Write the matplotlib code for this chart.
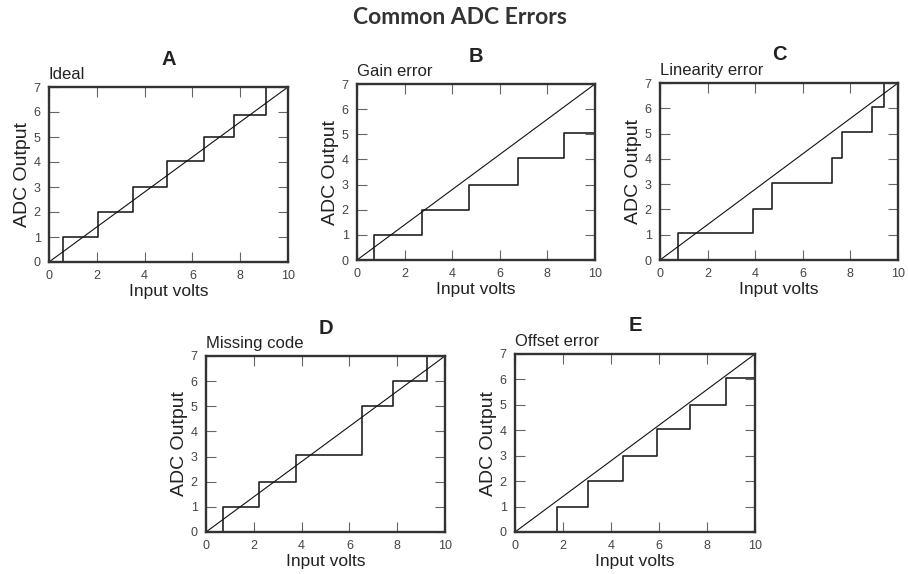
import numpy as np
import matplotlib
matplotlib.use("Agg")
import matplotlib.pyplot as plt

plt.rcParams['font.family'] = ['Liberation Sans', 'DejaVu Sans']

# step transitions (input volts) and the output code reached after each
ideal_x = [0.6, 2.05, 3.5, 4.92, 6.5, 7.75, 9.1]
ideal_y = [1, 2, 3, 4.05, 5, 5.9, 7]
gain_x = [0.7, 2.73, 4.69, 6.76, 8.71]
gain_y = [1, 2, 3, 4.05, 5.05]
lin_x = [0.74, 3.89, 4.69, 7.23, 7.64, 8.9, 9.4]
lin_y = [1.05, 2, 3.05, 4.05, 5.05, 6.05, 7]
miss_x = [0.73, 2.23, 3.75, 6.51, 7.81, 9.23]
miss_y = [1, 2, 3.05, 5, 6, 7]
off_x = [1.74, 3.06, 4.51, 5.93, 7.29, 8.78]
off_y = [1, 2, 3, 4.05, 5, 6.05]

letters = ["A", "B", "C", "D", "E"]
subtitles = ["Ideal", "Gain error", "Linearity error", "Missing code", "Offset error"]
steps = [(ideal_x, ideal_y), (gain_x, gain_y), (lin_x, lin_y),
         (miss_x, miss_y), (off_x, off_y)]

W, H = 908, 574
# axes boxes in pixels: left, top, right, bottom
boxes = [(49, 87, 288, 262), (357, 84, 595, 260), (660, 83, 898, 260),
         (206, 356, 445, 532), (515, 354, 755, 532)]

fig = plt.figure(figsize=(W / 100, H / 100), dpi=100)
fig.text(460 / W, 1 - 18 / H, "Common ADC Errors", ha="center", va="center",
         fontsize=16.5, fontweight="bold", color="#333333",
         family=["Lato", "DejaVu Sans"])

for (l, t, r, b), (sx, sy), let, sub in zip(boxes, steps, letters, subtitles):
    ax = fig.add_axes([l / W, 1 - b / H, (r - l) / W, (b - t) / H])
    xs = [0] + sx + [10]
    ys = [0] + sy + [sy[-1]]
    ax.step(xs, ys, where="post", color="#222222", lw=1.2)
    ax.plot([0, 10], [0, 7], color="#111111", lw=0.8)
    ax.set_xlim(0, 10)
    ax.set_ylim(0, 7)
    ax.set_xticks(range(0, 11, 2))
    ax.set_yticks(range(0, 8))
    ax.tick_params(direction="in", top=True, right=True, length=7, width=0.8,
                   labelsize=9, labelcolor="#444444", color="#666666", pad=6)
    for s in ax.spines.values():
        s.set_linewidth(1.7)
        s.set_color("#333333")
    ax.set_xlabel("Input volts", fontsize=12.5, color="#222222", labelpad=1)
    ax.set_ylabel("ADC Output", fontsize=14, color="#222222", labelpad=2)
    ax.text(0.5, 1.105, let, transform=ax.transAxes, ha="center", va="bottom",
            fontsize=14.5, fontweight="bold", color="#222222")
    ax.text(0.0, 1.03, sub, transform=ax.transAxes, ha="left", va="bottom",
            fontsize=12, color="#222222")

fig.savefig("out.png", dpi=100)
